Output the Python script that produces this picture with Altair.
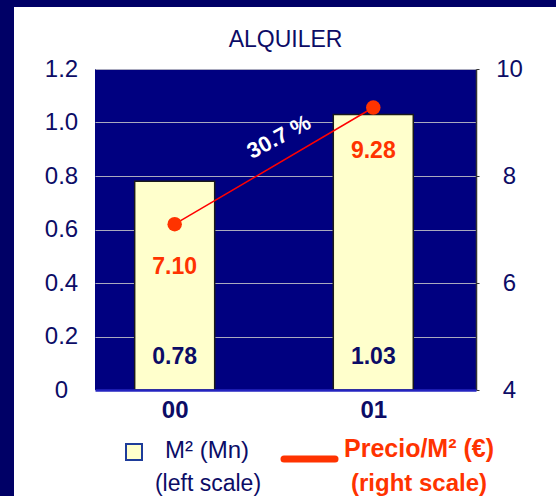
import altair as alt
import pandas as pd

# ---- data -------------------------------------------------------------
years = ["00", "01"]
m2_mn = [0.78, 1.03]          # surface, millions of m2 (left scale)
precio_m2 = [7.10, 9.28]      # price per m2 in euros (right scale)
chart_title = "ALQUILER"

# ---- styling ----------------------------------------------------------
FONT = "Liberation Sans"
NAVY_TEXT = "#0C0C66"
PLOT_BG = "#000080"
FRAME = "#000066"
BAR_FILL = "#FFFFCC"
ORANGE = "#FF3300"

W, H = 381, 321
PAD = {"left": 95, "top": 69, "right": 80, "bottom": 106}

df = pd.DataFrame({
    "idx": list(range(len(years))),
    "year": years,
    "m2": m2_mn,
    "precio": precio_m2,
})

growth = round((precio_m2[1] / precio_m2[0] - 1) * 100, 1)
df_growth = pd.DataFrame({
    "xm": [0.5],
    "ym": [(precio_m2[0] + precio_m2[1]) / 2],
    "label": [f"{growth} %"],
})
one = pd.DataFrame({"k": [0]})

year_expr = "[" + ",".join(f"'{y}'" for y in years) + "][datum.value]"

x_scale = alt.Scale(domain=[-0.376, 1.492], nice=False, zero=False)
x_axis = alt.Axis(
    values=list(range(len(years))), labelExpr=year_expr, title=None,
    grid=False, ticks=False, domainColor="#2424C0", domainWidth=2.5,
    labelFont=FONT, labelFontSize=24, labelFontWeight="bold",
    labelColor=NAVY_TEXT, labelPadding=8, zindex=1,
)

left_scale = alt.Scale(domain=[0, 1.2], nice=False, zero=True)
left_axis = alt.Axis(
    values=[0, 0.2, 0.4, 0.6, 0.8, 1.0, 1.2],
    labelExpr="datum.value == 0 ? '0' : format(datum.value, '.1f')",
    title=None, domain=False, ticks=False, grid=True,
    gridColor="#A9A9BE", gridWidth=1,
    labelFont=FONT, labelFontSize=24, labelColor=NAVY_TEXT,
    labelAlign="center", labelBaseline="middle", labelPadding=34,
)

right_scale = alt.Scale(domain=[4, 10], nice=False, zero=False)
right_axis = alt.Axis(
    orient="right", values=[4, 6, 8, 10], format="d", title=None,
    grid=False, domainColor="#333333", domainWidth=1.5,
    tickColor="#333333", tickSize=3,
    labelFont=FONT, labelFontSize=24, labelColor=NAVY_TEXT,
    labelAlign="center", labelBaseline="middle", labelPadding=30,
)

x_enc = alt.X("idx:Q", scale=x_scale, axis=x_axis)

# ---- surface bars (left scale) ------------------------------------------
bars = alt.Chart(df).mark_bar(
    size=80, fill=BAR_FILL, stroke="#1A1A1A", strokeWidth=1.5
).encode(x=x_enc, y=alt.Y("m2:Q", scale=left_scale, axis=left_axis))

bar_text = alt.Chart(df).mark_text(
    font=FONT, fontSize=23, fontWeight="bold", color=NAVY_TEXT,
    baseline="middle", dy=-33,
).encode(x=x_enc, y=alt.datum(0), text=alt.Text("m2:Q", format=".2f"))

left = alt.layer(bars, bar_text)

# ---- price line (right scale) -------------------------------------------
y_price = alt.Y("precio:Q", scale=right_scale, axis=right_axis)

line = alt.Chart(df).mark_line(color="#FF0000", strokeWidth=1.5).encode(
    x=x_enc, y=y_price)
points = alt.Chart(df).mark_circle(size=210, color=ORANGE, opacity=1).encode(
    x=x_enc, y=y_price)
price_text = alt.Chart(df).mark_text(
    font=FONT, fontSize=23, fontWeight="bold", color=ORANGE,
    baseline="middle", dy=43,
).encode(x=x_enc, y=y_price, text=alt.Text("precio:Q", format=".2f"))

growth_text = alt.Chart(df_growth).mark_text(
    font=FONT, fontSize=22, fontWeight="bold", color="white",
    baseline="middle", angle=332, dx=18, dy=-23,
).encode(
    x=alt.X("xm:Q", scale=x_scale, axis=x_axis),
    y=alt.Y("ym:Q", scale=right_scale, axis=right_axis),
    text="label:N",
)

right = alt.layer(line, points, price_text, growth_text)

# ---- frame, title and legend ---------------------------------------------
top_band = alt.Chart(one).mark_rect(color=FRAME).encode(
    x=alt.value(-95), x2=alt.value(461), y=alt.value(-69), y2=alt.value(-62))
left_band = alt.Chart(one).mark_rect(color=FRAME).encode(
    x=alt.value(-95), x2=alt.value(-81), y=alt.value(-69), y2=alt.value(427))

title_text = alt.Chart(one).mark_text(
    text=chart_title, font=FONT, fontSize=23, color=NAVY_TEXT,
    baseline="middle", align="center",
).encode(x=alt.value(W / 2), y=alt.value(-29))

leg_box = alt.Chart(one).mark_square(
    size=256, fill=BAR_FILL, stroke="#1E3C9A", strokeWidth=2, opacity=1
).encode(x=alt.value(39), y=alt.value(383))
leg_m2 = alt.Chart(one).mark_text(
    text="M\u00b2 (Mn)", font=FONT, fontSize=24, color=NAVY_TEXT,
    baseline="middle", align="center",
).encode(x=alt.value(112), y=alt.value(382))
leg_m2_sub = alt.Chart(one).mark_text(
    text="(left scale)", font=FONT, fontSize=23, color=NAVY_TEXT,
    baseline="middle", align="center",
).encode(x=alt.value(113), y=alt.value(415))
leg_line = alt.Chart(one).mark_rule(
    color=ORANGE, strokeWidth=7, strokeCap="round"
).encode(x=alt.value(189), x2=alt.value(240), y=alt.value(390))
leg_price = alt.Chart(one).mark_text(
    text="Precio/M\u00b2 (\u20ac)", font=FONT, fontSize=25, fontWeight="bold",
    color=ORANGE, baseline="middle", align="center",
).encode(x=alt.value(324), y=alt.value(380))
leg_price_sub = alt.Chart(one).mark_text(
    text="(right scale)", font=FONT, fontSize=24, fontWeight="bold",
    color=ORANGE, baseline="middle", align="center",
).encode(x=alt.value(324), y=alt.value(415))

deco = alt.layer(top_band, left_band, title_text, leg_box, leg_m2,
                 leg_m2_sub, leg_line, leg_price, leg_price_sub)

chart = alt.layer(left, right, deco).resolve_scale(
    y="independent"
).properties(
    width=W, height=H, padding=PAD, autosize="none", background="white",
).configure_view(fill=PLOT_BG, stroke=None)

chart.save("out.html", embed_options={"renderer": "svg", "actions": False})
